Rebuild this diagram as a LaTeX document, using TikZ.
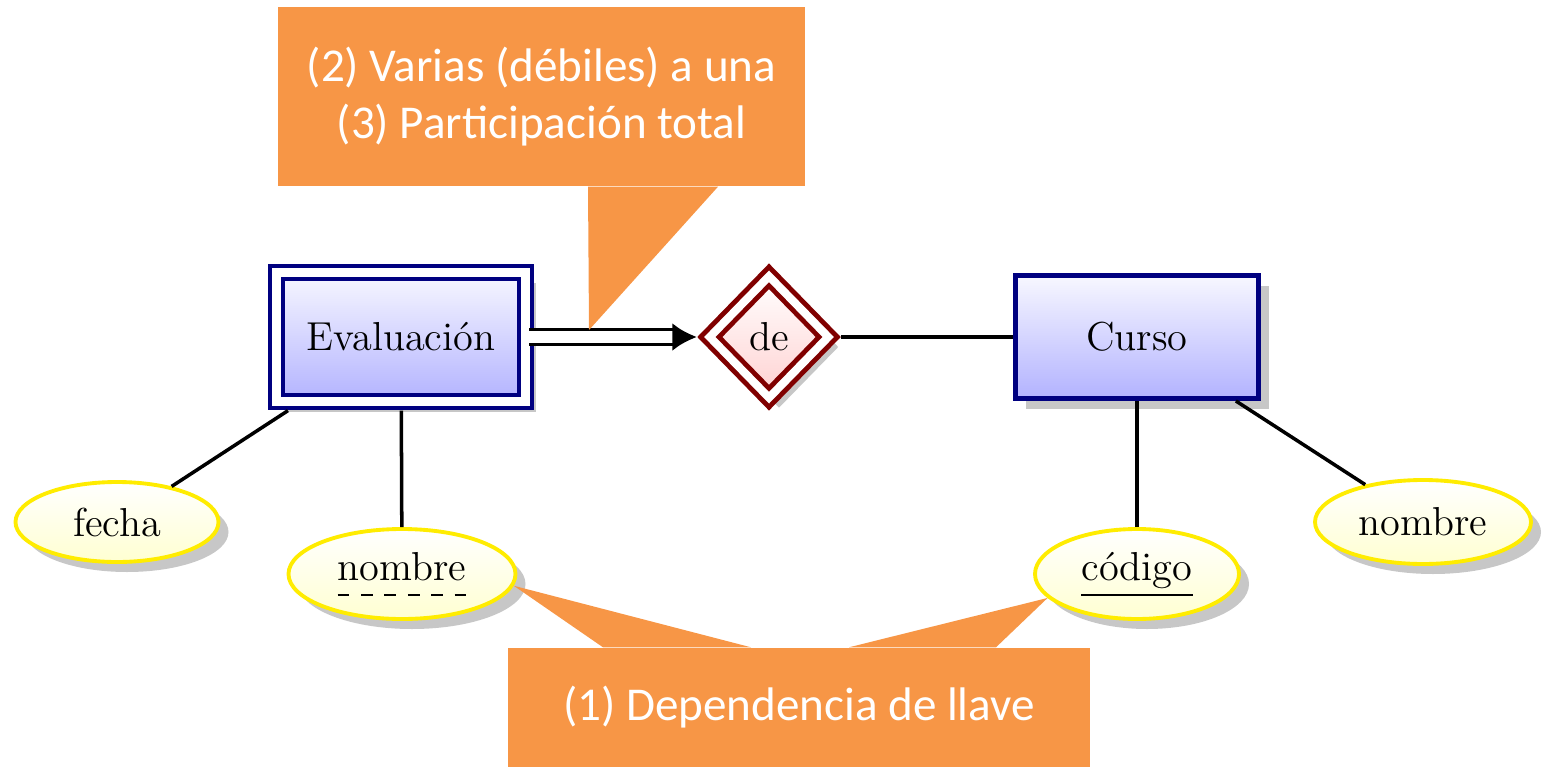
\documentclass[tikz,border=0pt]{standalone}
\usepackage{fontspec}
\usetikzlibrary{shapes.geometric,shadows,arrows.meta}
\newfontfamily\calloutfont{Carlito}
\definecolor{entityblue}{RGB}{0,0,128}
\definecolor{relred}{RGB}{128,0,0}
\definecolor{attryellow}{RGB}{255,236,0}
\definecolor{noteorange}{RGB}{247,150,70}
\newcommand{\erfont}{\fontsize{11.5}{14}\selectfont}
\newcommand{\notefont}{\calloutfont\fontsize{13.4}{16}\selectfont}
% llave (subrayado) y llave parcial (subrayado a trazos)
\newcommand{\keyattr}[1]{\setbox0\hbox{#1\vphantom{g}}\vtop{\copy0\nointerlineskip\kern1.5pt
  \hrule width\wd0 height0.45pt}}
\newcommand{\dashseg}{\vrule width3.3pt height0.45pt}
\newcommand{\weakkeyattr}[1]{\setbox0\hbox{#1\vphantom{g}}\vtop{\copy0\nointerlineskip\kern1.5pt
  \hbox to\wd0{\dashseg\hfill\dashseg\hfill\dashseg\hfill\dashseg\hfill\dashseg\hfill\dashseg}}}

\tikzset{
  ershadow/.style={drop shadow={shadow xshift=1mm, shadow yshift=-1mm, fill=black!22, opacity=1}},
  entity/.style={rectangle, draw=entityblue, line width=1.4pt, top color=blue!3, bottom color=blue!30,
    minimum width=2.43cm, minimum height=1.23cm, ershadow, font=\erfont},
  weakentity/.style={entity, double, double distance=2.3pt, outer sep=2.6pt,
    minimum width=2.49cm, minimum height=1.29cm},
  relation/.style={diamond, draw=relred, line width=1.4pt, double, double distance=2.3pt, outer sep=2.6pt,
    top color=white, bottom color=red!18, minimum width=1.26cm, minimum height=1.29cm, inner sep=0pt,
    ershadow, font=\erfont},
  attribute/.style={ellipse, draw=attryellow, line width=1.1pt, top color=white, bottom color=yellow!18,
    inner sep=0pt, ershadow, font=\erfont},
  attrline/.style={draw=black, line width=1pt},
  weakline/.style={double, double distance=3.2pt, line width=1.1pt, -{Latex[length=7pt, width=8pt]}},
  notebox/.style={rectangle, fill=noteorange, text=white, align=center, inner sep=0pt, font=\notefont}
}

\begin{document}
\begin{tikzpicture}
  \useasboundingbox (0,0) rectangle (15.47,7.67);

  % entidades y relacion
  \node[weakentity] (evalout) at (4.01,4.30) {Evaluación};
  \node[relation] (de) at (7.69,4.30) {de};
  \node[entity] (curso) at (11.37,4.30) {Curso};

  % atributos
  \node[attribute, minimum width=2.03cm, minimum height=0.80cm] (fecha) at (1.17,2.45) {fecha};
  \node[attribute, minimum width=2.27cm, minimum height=0.90cm] (nombreA) at (4.02,1.93) {\weakkeyattr{nombre}};
  \node[attribute, minimum width=2.04cm, minimum height=0.90cm] (codigo) at (11.37,1.93) {\keyattr{código}};
  \node[attribute, minimum width=2.16cm, minimum height=0.84cm] (nombreB) at (14.23,2.45) {nombre};

  \draw[attrline] (fecha) -- (evalout);
  \draw[attrline] (nombreA) -- (evalout);
  \draw[attrline] (de) -- (curso);
  \draw[attrline] (codigo) -- (curso);
  \draw[attrline] (nombreB) -- (curso);
  \draw[weakline] ([xshift=-1.5pt]evalout.east) -- (de.west);

  % notas
  \node[notebox, minimum width=5.27cm, minimum height=1.79cm] (notaA) at (5.415,6.705)
    {(2) Varias (débiles) a una\\(3) Participación total};
  \coordinate (tipA) at (5.89,4.37);
  \fill[noteorange] (notaA.south -| 5.88,0) -- (tipA) -- (notaA.south -| 7.18,0) -- cycle;

  \node[notebox, minimum width=5.82cm, minimum height=1.19cm] (notaB) at (7.99,0.595)
    {(1) Dependencia de llave};
  \fill[noteorange] (notaB.north -| 6.03,0) -- (nombreA.-6) -- (notaB.north -| 7.51,0) -- cycle;
  \fill[noteorange] (notaB.north -| 8.49,0) -- (codigo.195) -- (notaB.north -| 9.96,0) -- cycle;
\end{tikzpicture}
\end{document}
